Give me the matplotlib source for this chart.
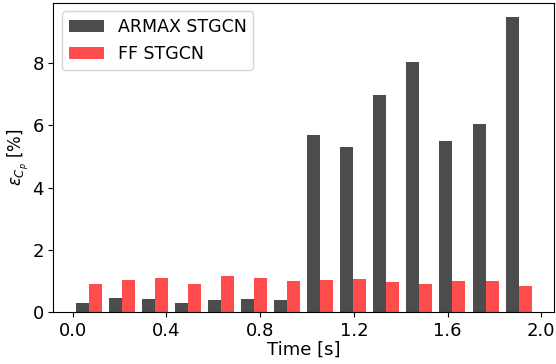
import matplotlib
matplotlib.use("Agg")
import matplotlib.pyplot as plt
import numpy as np

times = [0.07, 0.211, 0.352, 0.493, 0.634, 0.775, 0.916, 1.057, 1.198,
         1.339, 1.48, 1.621, 1.762, 1.903]
armax = [0.30, 0.45, 0.42, 0.30, 0.39, 0.42, 0.40, 5.70, 5.32, 6.97,
         8.03, 5.49, 6.06, 9.48]
ff = [0.91, 1.04, 1.08, 0.90, 1.16, 1.08, 1.00, 1.02, 1.06, 0.97,
      0.90, 1.00, 1.00, 0.85]
xticks = [0.0, 0.4, 0.8, 1.2, 1.6, 2.0]

w = 0.0555
t = np.array(times)

fig = plt.figure(figsize=(5.56, 3.64), dpi=100)
ax = fig.add_axes([0.096, 0.143, 0.901, 0.85])
ax.bar(t - w / 2, armax, width=w, color='k', alpha=0.7, label='ARMAX STGCN')
ax.bar(t + w / 2, ff, width=w, color='r', alpha=0.7, label='FF STGCN')
ax.set_xticks(xticks)
ax.set_xticklabels([f"{v:.1f}" for v in xticks])
ax.set_yticks([0, 2, 4, 6, 8])
ax.tick_params(labelsize=13)
ax.set_xlabel('Time [s]', fontsize=13, labelpad=1)
ax.set_ylabel(r'$\varepsilon_{C_p}$ [%]', fontsize=12, labelpad=1)
ax.legend(loc='upper left', fontsize=12.5)
fig.savefig('out.png', dpi=100)
